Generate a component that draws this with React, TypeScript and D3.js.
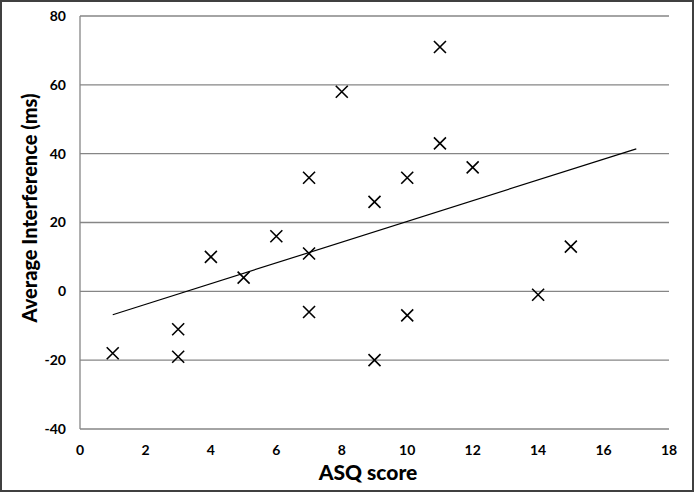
import React from "react";
import * as d3 from "d3";

const asqScores = [1, 3, 3, 4, 5, 6, 7, 7, 7, 8, 9, 9, 10, 10, 11, 11, 12, 14, 15];
const interference = [-18, -11, -19, 10, 4, 16, 33, 11, -6, 58, 26, -20, 33, -7, 71, 43, 36, -1, 13];
const trendX = [1, 17];
const trendY = [-6.8, 41.4];
const xTicks = [0, 2, 4, 6, 8, 10, 12, 14, 16, 18];
const yTicks = [-40, -20, 0, 20, 40, 60, 80];

const W = 694, H = 492;
const font = "Lato, 'Open Sans', sans-serif";

export default function App() {
  const x = d3.scaleLinear().domain([0, 18]).range([80, 669]);
  const y = d3.scaleLinear().domain([-40, 80]).range([429, 16]);
  const line = d3.line<number>().x((_, i) => x(trendX[i])).y((d) => y(d));
  const s = 6;
  return (
    <svg width={W} height={H} style={{ position: "absolute", left: 0, top: 0 }}>
      <rect x={0} y={0} width={W} height={H} fill="#fff" />
      <rect x={1} y={1} width={W - 2} height={H - 2} fill="none" stroke="#404040" strokeWidth={2} />
      {yTicks.map((t) => (
        <line key={t} x1={x(0)} x2={x(18)} y1={y(t)} y2={y(t)} stroke="#868686" strokeWidth={1.3} />
      ))}
      <line x1={x(0)} x2={x(0)} y1={y(80)} y2={y(-40)} stroke="#868686" strokeWidth={1.3} />
      {yTicks.map((t) => (
        <text key={t} x={66} y={y(t)} dy="0.35em" textAnchor="end" fontFamily={font} fontWeight="bold" fontSize={14}>
          {t}
        </text>
      ))}
      {xTicks.map((t) => (
        <text key={t} x={x(t)} y={455} textAnchor="middle" fontFamily={font} fontWeight="bold" fontSize={14}>
          {t}
        </text>
      ))}
      <path d={line(trendY) || ""} fill="none" stroke="#000" strokeWidth={1.2} />
      {asqScores.map((a, i) => {
        const cx = x(a), cy = y(interference[i]);
        return (
          <path key={i} d={`M${cx - s},${cy - s}L${cx + s},${cy + s}M${cx - s},${cy + s}L${cx + s},${cy - s}`} stroke="#000" strokeWidth={1.6} />
        );
      })}
      <text x={368} y={480} textAnchor="middle" fontFamily={font} fontWeight={900} fontSize={21}>
        ASQ score
      </text>
      <text transform={`translate(37,208) rotate(-90)`} textAnchor="middle" fontFamily={font} fontWeight={900} fontSize={20}>
        Average Interference (ms)
      </text>
    </svg>
  );
}
